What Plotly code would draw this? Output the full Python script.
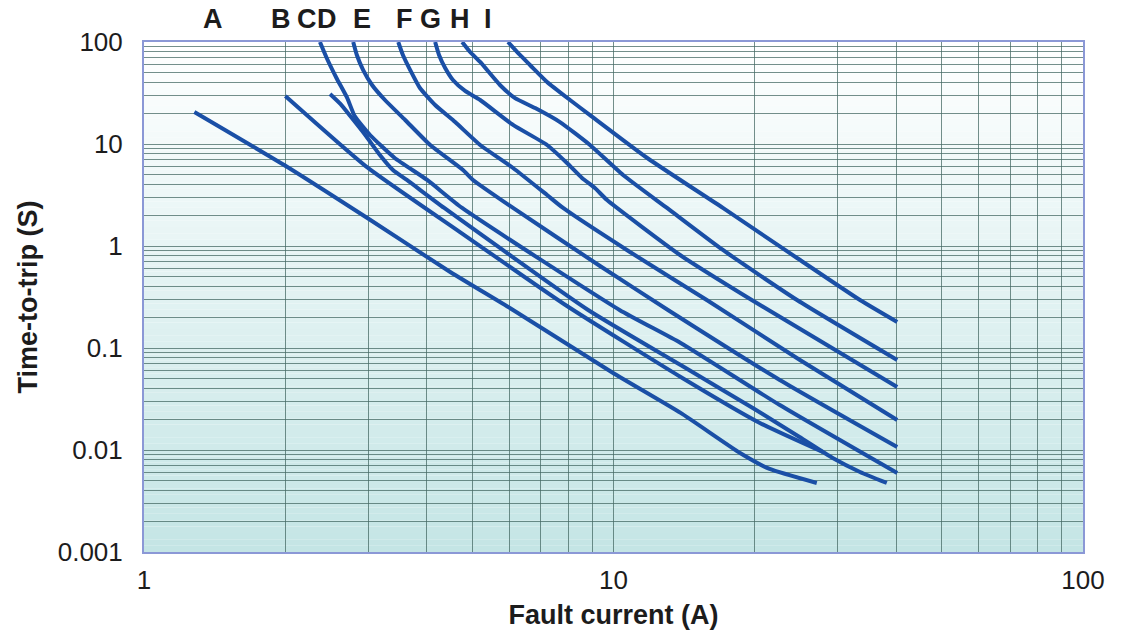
import numpy as np
import plotly.graph_objects as go

# ---- data (current in A, time in s) ----
curve_names = ["A", "B", "C", "D", "E", "F", "G", "H", "I"]

a_x = [1.28, 2.02, 2.99, 4.49, 6.11, 9.98, 13.9, 18.6, 21.5, 27.1]
a_y = [20.6, 5.95, 1.88, 0.556, 0.236, 0.0569, 0.0231, 0.00935, 0.00652, 0.00475]

b_x = [2.0, 2.99, 4.71, 7.96, 13.9, 20.5, 27.9]
b_y = [29.6, 5.9, 1.37, 0.258, 0.052, 0.0184, 0.00956]

c_x = [2.49, 2.62, 2.75, 2.96, 3.18, 3.39, 3.63, 4.36, 8.83, 13.9, 19.8, 24.9, 29.3, 33.5, 38.2]
c_y = [30.9, 24.7, 18.8, 12.25, 7.80, 5.56, 4.44, 2.36, 0.236, 0.0681, 0.0258, 0.0134, 0.00835, 0.00609, 0.00475]

d_x = [2.37, 2.45, 2.57, 2.71, 2.81, 3.03, 3.42, 4.01, 4.76, 10.3, 13.9, 22.6, 40.2]
d_y = [100, 69.7, 44.4, 28.2, 18.8, 12.25, 7.29, 4.44, 2.36, 0.236, 0.112, 0.0276, 0.00595]

e_x = [2.79, 2.84, 2.93, 3.06, 3.26, 3.60, 4.07, 4.78, 5.02, 6.11, 9.36, 13.06, 22.6, 40.2]
e_y = [100, 74.6, 53.1, 37.9, 27.0, 17.2, 9.78, 5.56, 4.44, 2.36, 0.637, 0.236, 0.0486, 0.0107]

f_x = [3.48, 3.56, 3.69, 3.87, 4.17, 4.60, 5.20, 6.11, 7.22, 7.81, 10.84, 15.8, 24.95, 40.2]
f_y = [100, 74.6, 53.1, 35.4, 24.1, 16.4, 9.78, 5.82, 3.16, 2.36, 0.873, 0.2955, 0.0763, 0.0197]

g_x = [4.17, 4.25, 4.38, 4.55, 4.83, 5.20, 6.11, 7.22, 7.96, 8.57, 9.13, 9.69, 13.86, 19.7, 40.2]
g_y = [100, 74.6, 55.6, 42.4, 33.1, 27.0, 15.4, 9.78, 6.51, 4.64, 3.70, 2.82, 0.816, 0.2955, 0.0415]

h_x = [4.76, 4.95, 5.20, 5.73, 6.17, 6.81, 7.69, 8.91, 10.48, 13.0, 17.1, 24.6, 40.2]
h_y = [100, 79.8, 63.7, 37.9, 28.2, 22.5, 16.4, 9.78, 4.97, 2.36, 0.914, 0.2955, 0.0763]

i_x = [5.96, 6.32, 6.64, 7.22, 8.08, 8.91, 11.8, 17.1, 24.6, 33.5, 40.2]
i_y = [100, 74.6, 59.5, 40.6, 27.0, 19.2, 7.29, 2.36, 0.763, 0.2955, 0.180]

label_currents = [1.40, 1.96, 2.22, 2.45, 2.91, 3.58, 4.07, 4.71, 5.40]

x_tick_vals = [1, 10, 100]
x_tick_text = ["1", "10", "100"]
y_tick_vals = [0.001, 0.01, 0.1, 1, 10, 100]
y_tick_text = ["0.001", "0.01", "0.1", "1", "10", "100"]

x_title = "Fault current (A)"
y_title = "Time-to-trip (S)"

# ---- styling ----
LINE_COLOR = "#1a4fa6"
GRID_COLOR = "rgba(70,105,100,0.75)"
FONT = "Liberation Sans, Arial, Helvetica, sans-serif"
TEXT_COLOR = "#1c1c1c"

curves = [(a_x, a_y), (b_x, b_y), (c_x, c_y), (d_x, d_y), (e_x, e_y),
          (f_x, f_y), (g_x, g_y), (h_x, h_y), (i_x, i_y)]

fig = go.Figure()
for name, (xs, ys) in zip(curve_names, curves):
    fig.add_trace(go.Scatter(
        x=xs, y=ys, mode="lines", name=name, showlegend=False,
        line=dict(color=LINE_COLOR, width=4, shape="spline", smoothing=0.5),
        hoverinfo="skip",
    ))

# gradient background bands (white at top -> pale teal at bottom)
n_bands = 80
top_rgb = np.array([255, 255, 255])
bot_rgb = np.array([196, 229, 229])
shapes = []
for k in range(n_bands):
    t = (k + 0.5) / n_bands
    c = top_rgb + (bot_rgb - top_rgb) * t
    shapes.append(dict(
        type="rect", xref="paper", yref="paper",
        x0=0, x1=1, y0=1 - (k + 1) / n_bands, y1=1 - k / n_bands,
        fillcolor="rgb(%d,%d,%d)" % tuple(np.round(c).astype(int)),
        line=dict(width=0), layer="below",
    ))

minor_x = [m * 10 ** e for e in range(0, 2) for m in range(2, 10)]
minor_y = [m * 10.0 ** e for e in range(-3, 2) for m in range(2, 10)]

annotations = []
for lab, cur in zip(curve_names, label_currents):
    annotations.append(dict(
        x=np.log10(cur), y=1.045, xref="x", yref="paper",
        text="<b>%s</b>" % lab, showarrow=False,
        font=dict(family=FONT, size=27, color=TEXT_COLOR),
        xanchor="center", yanchor="middle",
    ))

fig.update_layout(
    width=1125, height=635, autosize=False,
    margin=dict(l=144, r=42, t=42, b=83, autoexpand=False),
    paper_bgcolor="white", plot_bgcolor="white",
    shapes=shapes, annotations=annotations,
    font=dict(family=FONT, size=26, color=TEXT_COLOR),
)

fig.update_xaxes(
    type="log", range=[0, 2], automargin=False,
    tickvals=x_tick_vals, ticktext=x_tick_text,
    tickfont=dict(family=FONT, size=26, color=TEXT_COLOR),
    ticks="", ticklabelstandoff=4,
    showgrid=True, gridcolor=GRID_COLOR, gridwidth=1,
    minor=dict(tickvals=minor_x, showgrid=True, gridcolor=GRID_COLOR, gridwidth=1, ticks=""),
    showline=True, mirror=True, linecolor="#8b98d6", linewidth=2,
    zeroline=False,
    title=dict(text="<b>%s</b>" % x_title, font=dict(family=FONT, size=27, color=TEXT_COLOR), standoff=11),
)
fig.update_yaxes(
    type="log", range=[-3, 2], automargin=False,
    tickvals=y_tick_vals, ticktext=y_tick_text,
    tickfont=dict(family=FONT, size=26, color=TEXT_COLOR),
    ticks="", ticklabelstandoff=14,
    showgrid=True, gridcolor=GRID_COLOR, gridwidth=1,
    minor=dict(tickvals=minor_y, showgrid=True, gridcolor=GRID_COLOR, gridwidth=1, ticks=""),
    showline=True, mirror=True, linecolor="#8b98d6", linewidth=2,
    zeroline=False,
    title=dict(text="<b>%s</b>" % y_title, font=dict(family=FONT, size=27, color=TEXT_COLOR), standoff=12),
)

# remove the browser's default 8px page margin so the figure sits at the window origin
fig.write_html("out.html", config={"displayModeBar": False},
               post_script="document.body.style.margin='0';")
